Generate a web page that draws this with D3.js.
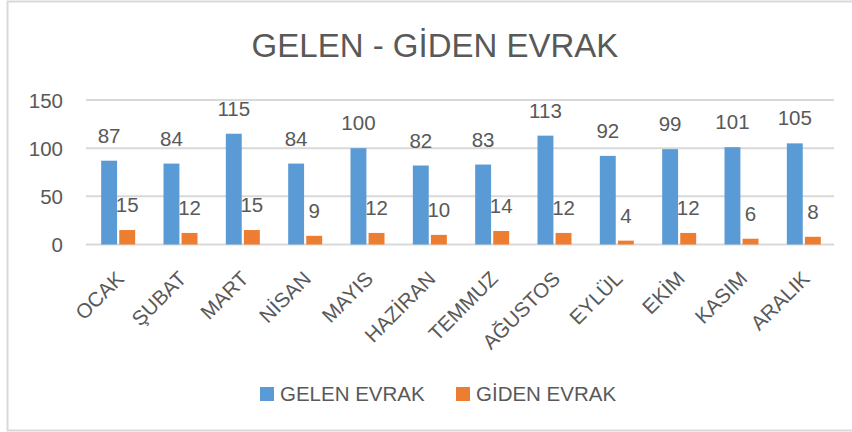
<!DOCTYPE html>
<html>
<head>
<meta charset="utf-8">
<script src="https://cdn.jsdelivr.net/npm/d3@7"></script>
<style>
  body { margin: 0; background: #fff; }
  text { font-family: "Liberation Sans", Arial, sans-serif; fill: #595959; }
</style>
</head>
<body>
<div id="chart"></div>
<script>
// months
const months = ["OCAK", "ŞUBAT", "MART", "NİSAN", "MAYIS", "HAZİRAN", "TEMMUZ", "AĞUSTOS", "EYLÜL", "EKİM", "KASIM", "ARALIK"];
const gelen = [87, 84, 115, 84, 100, 82, 83, 113, 92, 99, 101, 105];
const giden = [15, 12, 15, 9, 12, 10, 14, 12, 4, 12, 6, 8];
const seriesNames = ["GELEN EVRAK", "GİDEN EVRAK"];
const colors = ["#5B9BD5", "#ED7D31"];
const yTicks = [0, 50, 100, 150];

let width = 852, height = 432;
const fs = 20.5;

let svg = d3.select("#chart")
  .append("svg")
  .attr("width", width)
  .attr("height", height);

// chart border
svg.append("rect")
  .attr("x", 7.5)
  .attr("y", 1.5)
  .attr("width", 850)
  .attr("height", 429)
  .attr("fill", "#fff")
  .attr("stroke", "#D9D9D9")
  .attr("stroke-width", 2);

let xscale = d3.scaleBand()
  .domain(months)
  .range([86, 834]);

let inner = d3.scaleBand()
  .domain([0, 1])
  .range([xscale.bandwidth() / 2 - 16, xscale.bandwidth() / 2 + 18])
  .paddingInner(0.12);

let yscale = d3.scaleLinear()
  .domain([0, 150])
  .range([244.5, 100]);

// gridlines
svg.append("g")
  .selectAll("line")
  .data(yTicks)
  .join("line")
  .attr("x1", 86)
  .attr("x2", 834)
  .attr("y1", d => yscale(d))
  .attr("y2", d => yscale(d))
  .attr("stroke", "#D9D9D9")
  .attr("stroke-width", 2);

// y labels
let yaxis = svg.append("g")
  .attr("transform", "translate(63,0)")
  .call(d3.axisLeft(yscale).tickValues(yTicks).tickSize(0).tickPadding(0));
yaxis.select(".domain").remove();
yaxis.selectAll("text")
  .attr("font-size", fs)
  .attr("fill", "#595959")
  .attr("font-family", "Liberation Sans, Arial, sans-serif")
  .attr("dy", "0.35em");

// x labels, rotated
let xaxis = svg.append("g")
  .attr("transform", "translate(0,258)")
  .call(d3.axisBottom(xscale).tickSize(0).tickPadding(0));
xaxis.select(".domain").remove();
xaxis.selectAll("text")
  .attr("font-size", fs)
  .attr("fill", "#595959")
  .attr("font-family", "Liberation Sans, Arial, sans-serif")
  .attr("text-anchor", "end")
  .attr("y", 0)
  .attr("dy", 0)
  .attr("transform", "translate(8,22) rotate(-45)");

const series = [gelen, giden];

series.forEach((vals, s) => {
  let g = svg.append("g");
  g.selectAll("rect")
    .data(vals)
    .join("rect")
    .attr("x", (d, i) => xscale(months[i]) + inner(s))
    .attr("width", inner.bandwidth())
    .attr("y", d => yscale(d))
    .attr("height", d => yscale(0) - yscale(d))
    .attr("fill", colors[s]);

  g.selectAll("text")
    .data(vals)
    .join("text")
    .attr("x", (d, i) => xscale(months[i]) + inner(s) + inner.bandwidth() / 2)
    .attr("y", d => yscale(d) - 18)
    .attr("text-anchor", "middle")
    .attr("font-size", fs)
    .text(d => d);
});

// title
svg.append("text")
  .attr("x", 435)
  .attr("y", 57)
  .attr("text-anchor", "middle")
  .attr("font-size", 33)
  .text("GELEN - GİDEN EVRAK");

// legend
const legendX = [260, 456];
seriesNames.forEach((name, s) => {
  svg.append("rect")
    .attr("x", legendX[s])
    .attr("y", 387)
    .attr("width", 14)
    .attr("height", 14)
    .attr("fill", colors[s]);
  svg.append("text")
    .attr("x", legendX[s] + 20)
    .attr("y", 401)
    .attr("font-size", fs)
    .text(name);
});
</script>
</body>
</html>
